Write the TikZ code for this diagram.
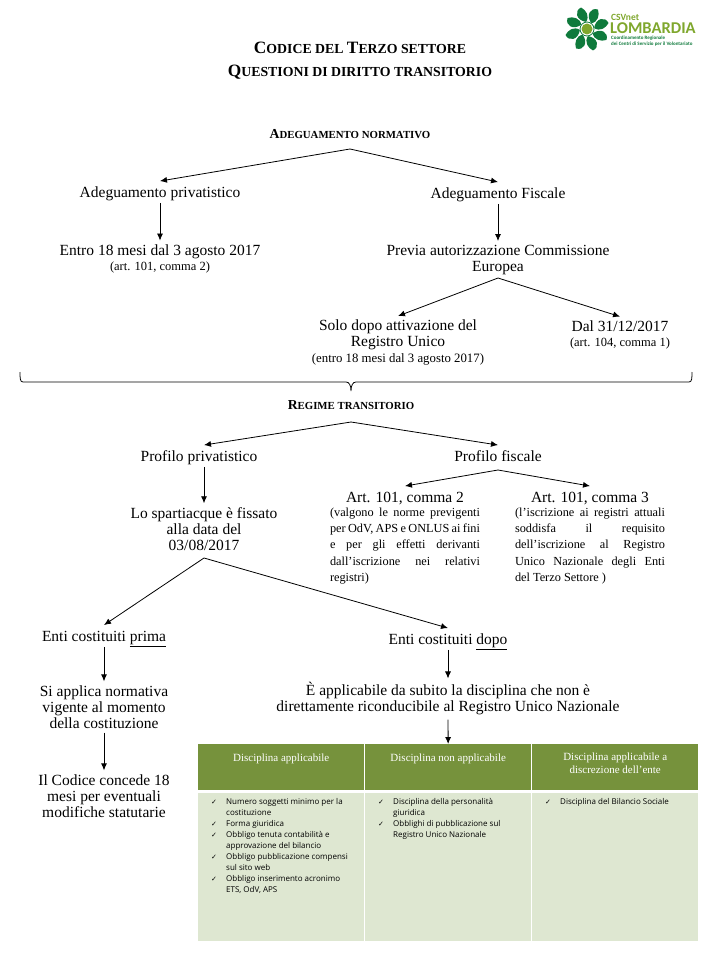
\documentclass[tikz,border=0pt]{standalone}
\usepackage{fontspec}
\setmainfont{Liberation Serif}
\newfontfamily\tickfont{DejaVu Sans}
\newfontfamily\listfont{Open Sans}
\newfontfamily\logofont{Carlito}
\usetikzlibrary{arrows.meta}
\definecolor{headolive}{HTML}{76923C}
\definecolor{bodyolive}{HTML}{DEE7D1}
\definecolor{csvdark}{HTML}{0F7A3C}
\definecolor{csvlight}{HTML}{7FA72D}
\newcommand{\capsA}[2]{{\fontsize{17.3}{23}\selectfont #1}{\fontsize{13.8}{23}\selectfont #2}}
\newcommand{\capsB}[2]{{\fontsize{13.7}{14}\selectfont #1}{\fontsize{10.8}{14}\selectfont #2}}
\newcommand{\riga}[1]{\makebox[150pt][s]{#1}}
\newcommand{\spunta}{\makebox[15pt][l]{{\tickfont\fontsize{7}{10}\selectfont ✓}}}
\newcommand{\segue}{\hspace*{15pt}}
\tikzset{
    txt/.style = {align=center, inner sep=4pt, font=\fontsize{15.5}{16}\selectfont},
    one/.style = {text height=12pt, text depth=1.5pt},
    arrow/.style = {draw, -{Latex[length=7pt,width=6pt]}, thick},
    head/.style = {fill=headolive, text=white, minimum width=166pt, minimum height=46pt,
        inner sep=0pt, align=center, font=\fontsize{11}{13}\selectfont, text depth=0pt},
    cellbody/.style = {fill=bodyolive, minimum width=166pt, minimum height=148pt},
    item/.style = {align=left, inner sep=0pt, font=\listfont\fontsize{8}{11}\selectfont},
    bodytext/.style = {align=left, inner sep=0pt, font=\fontsize{12.3}{16.2}\selectfont}
}
\begin{document}
\begin{tikzpicture}[x=1pt,y=1pt,auto,node distance=2cm]
    \useasboundingbox (0,0) rectangle (720,-960);
    % title and first tree
    \node [align=center, inner sep=0pt, font=\bfseries\fontsize{14}{23}\selectfont] (title) at (360,-61)
        {\capsA{C}{ODICE DEL }\capsA{T}{ERZO SETTORE}\\\capsA{Q}{UESTIONI DI DIRITTO TRANSITORIO}};
    \node [txt, font=\bfseries\fontsize{12}{14}\selectfont, below of=title, node distance=73pt, xshift=-10pt] (norm)
        {\capsB{A}{DEGUAMENTO NORMATIVO}};
    \coordinate [below of=norm, node distance=15pt] (apexnorm);
    \node [txt, one, below of=norm, node distance=58pt, xshift=-190pt] (priv) {Adeguamento privatistico};
    \node [txt, one, below of=norm, node distance=59pt, xshift=148pt] (fisc) {Adeguamento Fiscale};
    \node [txt, below of=priv, node distance=67pt] (entro)
        {Entro 18 mesi dal 3 agosto 2017\\[-1pt]{\fontsize{12.5}{13}\selectfont (art. 101, comma 2)}};
    \node [txt, below of=fisc, node distance=67pt] (previa) {Previa autorizzazione Commissione\\Europea};
    \coordinate [below of=previa, node distance=18pt] (apexprevia);
    \node [txt, below of=previa, node distance=83pt, xshift=-100pt] (solo)
        {Solo dopo attivazione del\\Registro Unico\\{\fontsize{12.8}{16}\selectfont (entro 18 mesi dal 3 agosto 2017)}};
    \node [txt, below of=previa, node distance=75pt, xshift=122pt] (dal)
        {Dal 31/12/2017\\[-1pt]{\fontsize{12.5}{13}\selectfont (art. 104, comma 1)}};
    \draw [arrow] (apexnorm) -- (priv.north);
    \draw [arrow] (apexnorm) -- (fisc.north);
    \draw [arrow] (priv) -- (entro);
    \draw [arrow] (fisc) -- (previa);
    \draw [arrow] (apexprevia) -- (solo.north);
    \draw [arrow] (apexprevia) -- (dal.north);
    % brace
    \coordinate (braceleft) at (20,-372);
    \coordinate (bracetip) at (351,-391);
    \coordinate (braceright) at (692,-372);
    \draw [thick] (braceleft) .. controls (20,-378) and (20,-382) .. (23,-382) -- (346,-382)
        .. controls (349,-382) and (351,-385) .. (bracetip) .. controls (351,-385) and (353,-382) .. (356,-382)
        -- (689,-382) .. controls (692,-382) and (692,-378) .. (braceright);
    % second tree
    \node [txt, font=\bfseries\fontsize{12}{14}\selectfont] (regime) at (351,-405) {\capsB{R}{EGIME TRANSITORIO}};
    \coordinate [below of=regime, node distance=17pt] (apexregime);
    \node [txt, one, below of=regime, node distance=51pt, xshift=-152pt] (profpriv) {Profilo privatistico};
    \node [txt, one, below of=regime, node distance=51pt, xshift=147pt] (proffisc) {Profilo fiscale};
    \coordinate [below of=proffisc, node distance=14pt] (apexfisc);
    \node [txt, below of=profpriv, node distance=73pt, xshift=5pt] (sparti)
        {Lo spartiacque è fissato\\alla data del\\03/08/2017};
    \coordinate [below of=sparti, node distance=29pt] (apexsparti);
    \node [txt, one, below of=proffisc, node distance=41pt, xshift=-93pt] (arttwo) {Art. 101, comma 2};
    \node [txt, one, below of=proffisc, node distance=41pt, xshift=92pt] (artthree) {Art. 101, comma 3};
    \node [bodytext, below of=arttwo, node distance=49pt] (bodytwo)
        {\riga{(valgono le norme previgenti}\\\riga{per OdV, APS e ONLUS ai fini}\\\riga{e per gli effetti derivanti}\\\riga{dall’iscrizione nei relativi}\\registri)};
    \node [bodytext, below of=artthree, node distance=49pt] (bodythree)
        {\riga{(l’iscrizione ai registri attuali}\\\riga{soddisfa il requisito}\\\riga{dell’iscrizione al Registro}\\\riga{Unico Nazionale degli Enti}\\del Terzo Settore )};
    \draw [arrow] (apexregime) -- ([xshift=5pt]profpriv.north);
    \draw [arrow] (apexregime) -- (proffisc.north);
    \draw [arrow] ([xshift=5pt]profpriv.south) -- (sparti);
    \draw [arrow] (apexfisc) -- (arttwo.north);
    \draw [arrow] (apexfisc) -- (artthree.north);
    % left and right branch
    \node [txt, one] (prima) at (104,-636) {Enti costituiti \underline{prima}};
    \node [txt, one] (dopo) at (448,-639) {Enti costituiti \underline{dopo}};
    \node [txt, below of=prima, node distance=71pt] (vigente)
        {Si applica normativa\\vigente al momento\\della costituzione};
    \node [txt, below of=vigente, node distance=89pt] (concede)
        {Il Codice concede 18\\mesi per eventuali\\modifiche statutarie};
    \node [txt, below of=dopo, node distance=60pt] (subito)
        {È applicabile da subito la disciplina che non è\\direttamente riconducibile al Registro Unico Nazionale};
    \draw [arrow] (apexsparti) -- (prima.north);
    \draw [arrow] (apexsparti) -- (dopo.north);
    \draw [arrow] (prima) -- (vigente);
    \draw [arrow] (vigente) -- (concede);
    \draw [arrow] (dopo) -- (subito);
    % table
    \node [head, anchor=north west] (heada) at (198,-744) {\raisebox{20pt}{Disciplina applicabile}};
    \node [head, right of=heada, node distance=167pt] (headb) {\raisebox{20pt}{Disciplina non applicabile}};
    \node [head, right of=headb, node distance=167pt] (headc)
        {\raisebox{15pt}{\begin{tabular}{@{}c@{}}Disciplina applicabile a\\discrezione dell’ente\end{tabular}}};
    \node [cellbody, below of=heada, node distance=100pt] (bodya) {};
    \node [cellbody, below of=headb, node distance=100pt] (bodyb) {};
    \node [cellbody, below of=headc, node distance=100pt] (bodyc) {};
    \draw [arrow] (subito) -- (headb);
    \node [item, anchor=north west] (lista) at (211,-798)
        {\spunta Numero soggetti minimo per la\\\segue costituzione\\\spunta Forma giuridica\\\spunta Obbligo tenuta contabilità e\\\segue approvazione del bilancio\\\spunta Obbligo pubblicazione compensi\\\segue sul sito web\\\spunta Obbligo inserimento acronimo\\\segue ETS, OdV, APS};
    \node [item, anchor=north west] (listb) at (378,-798)
        {\spunta Disciplina della personalità\\\segue giuridica\\\spunta Obblighi di pubblicazione sul\\\segue Registro Unico Nazionale};
    \node [item, anchor=north west] (listc) at (545,-798) {\spunta Disciplina del Bilancio Sociale};
    % logo
    \begin{scope}[shift={(587,-29)}]
        \foreach \a in {0,45,...,315}
            \fill [csvdark, rotate=\a] (7,1) .. controls (9,11) and (18,13) .. (21.5,6) .. controls (19,1) and (13,-3) .. (7,1);
        \fill [white] (0,0) circle (7.5);
        \draw [csvdark, thick] (0,0) circle (7);
        \fill [csvlight] (0,0) circle (5.5);
    \end{scope}
    \node [inner sep=0pt, anchor=west, text=csvlight, font=\logofont\bfseries\fontsize{9.5}{8}\selectfont] (csvnet) at (611,-17) {CSVnet};
    \node [inner sep=0pt, anchor=west, text=csvlight, font=\logofont\bfseries\fontsize{16.5}{16}\selectfont] (lomb) at (610,-28) {LOMBARDIA};
    \node [inner sep=0pt, anchor=north west, align=left, text=csvdark, font=\logofont\bfseries\fontsize{5}{5.6}\selectfont] (coord) at (611,-36)
        {Coordinamento Regionale\\dei Centri di Servizio per il Volontariato};
\end{tikzpicture}
\end{document}
